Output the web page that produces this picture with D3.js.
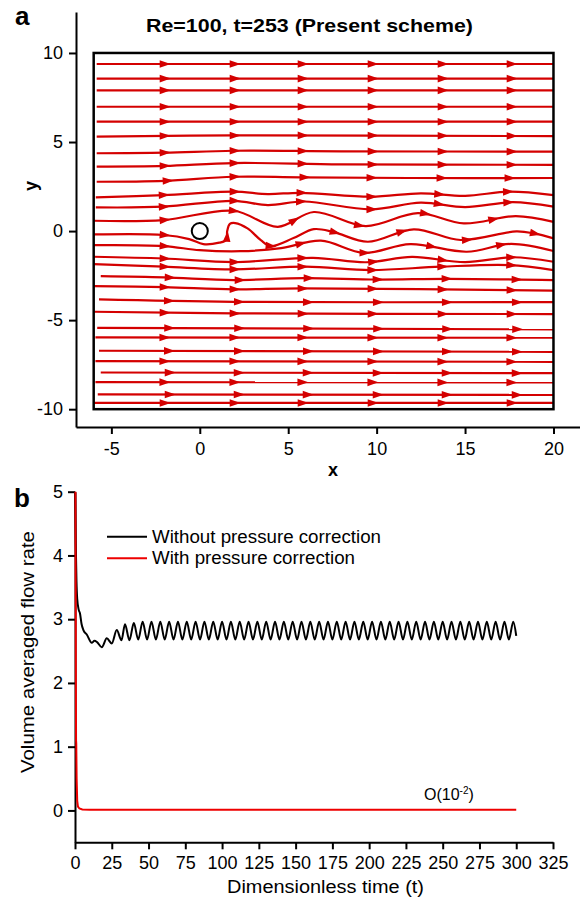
<!DOCTYPE html>
<html>
<head>
<meta charset="utf-8">
<script src="https://cdn.jsdelivr.net/npm/d3@7"></script>
<style>
body { margin: 0; background: #fff; }
text { font-family: Arial, "Liberation Sans", sans-serif; fill: #000; }
</style>
</head>
<body>
<svg id="fig" width="580" height="898"></svg>
<script>
// ---------- panel a: streamlines, [x, y] in flow units ----------
var xTicksA = [-5, 0, 5, 10, 15, 20];
var yTicksA = [-10, -5, 0, 5, 10];
var arrowsA = [-2.0, 1.95, 5.8, 9.75, 13.7, 17.6];
var arrowsB = [-1.75, 2.2, 6.1, 10.05, 13.95, 17.9];
var cylR = 0.5;

var streamlines = [
  {pts: [[-5.83, 9.38], [20, 9.38]], arrows: arrowsA},
  {pts: [[-5.83, 8.56], [20, 8.56]], arrows: arrowsA},
  {pts: [[-5.83, 7.90], [20, 7.90]], arrows: arrowsA},
  {pts: [[-5.83, 6.98], [20, 6.98]], arrows: arrowsA},
  {pts: [[-5.83, 6.14], [20, 6.14]], arrows: arrowsA},
  {pts: [[-5.83, 5.30], [1.9, 5.37], [20, 5.33]], arrows: arrowsA},
  {pts: [[-5.83, 4.37], [-2, 4.40], [1.9, 4.51], [8, 4.48], [20, 4.46]], arrows: arrowsA},
  {pts: [[-5.83, 3.62], [-2, 3.66], [1.9, 3.82], [8, 3.75], [20, 3.72]], arrows: arrowsA},
  {pts: [[-5.83, 2.77], [-2, 2.82], [1.9, 3.05], [5.7, 3.02], [12, 2.98], [20, 2.98]], arrows: [-1.86, 1.92, 5.88, 9.67, 13.63, 17.48]},
  {pts: [[-5.88, 1.89], [-2.04, 2.02], [1.92, 2.21], [3.85, 2.08], [5.71, 2.15], [9.67, 1.93], [12.5, 2.12], [15.0, 1.98], [17.5, 2.21], [20, 2.02]], arrows: [-2.04, 1.92, 5.7, 9.67, 13.5, 17.4]},
  {pts: [[-5.88, 1.33], [-2.04, 1.37], [1.92, 1.70], [3.85, 1.46], [5.9, 1.66], [9.67, 1.22], [12.5, 1.6], [15.0, 1.35], [17.7, 1.62], [20, 1.37]], arrows: [-2.04, 1.92, 5.7, 9.67, 13.5, 17.4]},
  {pts: [[-6, 0.58], [-2.04, 0.62], [1.92, 1.14], [4.41, 0.24], [6.45, 1.07], [9.39, 0.28], [12.33, 1.01], [14.93, 0.43], [17.87, 0.84], [20, 0.52]], arrows: [-2.04, 1.92, 5.3, 9.0, 12.7, 16.6]},
  {pts: [[-6, -0.19], [-2.04, -0.22], [-0.6, -0.45], [0.2, -0.73], [1.1, -0.65], [1.5, -0.5], [1.55, 0.0], [1.7, 0.4], [2.0, 0.45], [2.7, 0.15], [3.45, -0.51], [4.0, -0.84], [5.3, -0.39], [6.45, 0.11], [7.58, -0.06], [9.5, -0.6], [12.1, 0.1], [14.75, -0.5], [17.9, -0.02], [18.9, -0.13], [20, -0.41]], arrows: [-2.04, [1.56, -0.3], 4.0, 7.58, 11.4, 15.1, 18.9]},
  {pts: [[-6, -0.79], [-2.04, -0.84], [0, -1.07], [2.3, -1.13], [4.6, -0.96], [6.85, -0.54], [9.28, -1.22], [11.9, -0.73], [15.1, -1.16], [17.6, -0.72], [20, -1.12]], arrows: [-2.04, 5.7, 9.28, 13.07, 17.0]},
  {pts: [[-6, -1.44], [-2.04, -1.54], [1.92, -1.74], [6.4, -1.5], [9.4, -1.75], [12.0, -1.45], [15.0, -1.74], [17.7, -1.47], [20, -1.72]], arrows: arrowsA},
  {pts: [[-6, -1.85], [-2.04, -2.0], [1.92, -2.15], [6.0, -2.0], [9.67, -2.19], [13.6, -2.0], [17.5, -1.91], [20, -2.19]], arrows: arrowsA},
  {pts: [[-5.6, -2.53], [-2, -2.6], [1.92, -2.75], [5.9, -2.64], [10, -2.72], [14, -2.68], [20, -2.75]], arrows: arrowsB},
  {pts: [[-6, -3.09], [-2, -3.15], [1.92, -3.27], [5.71, -3.22], [20, -3.34]], arrows: arrowsA},
  {pts: [[-5.7, -3.84], [1.92, -3.97], [20, -3.99]], arrows: arrowsB},
  {pts: [[-6, -4.53], [1.92, -4.62], [20, -4.66]], arrows: arrowsA},
  {pts: [[-5.8, -5.43], [20, -5.52]], arrows: arrowsB},
  {pts: [[-5.9, -5.97], [20, -5.99]], arrows: arrowsA},
  {pts: [[-5.7, -6.72], [20, -6.78]], arrows: arrowsB},
  {pts: [[-5.9, -7.30], [20, -7.34]], arrows: arrowsA},
  {pts: [[-5.6, -7.94], [20, -7.98]], arrows: arrowsB},
  {pts: [[-5.9, -8.48], [20, -8.50]], arrows: arrowsA},
  {pts: [[-5.77, -9.17], [20, -9.20]], arrows: arrowsB},
  {pts: [[-6, -9.65], [20, -9.65]], arrows: arrowsA}
];

// ---------- panel b: flow-rate histories [t, value] ----------
var xTicksB = [0, 25, 50, 75, 100, 125, 150, 175, 200, 225, 250, 275, 300, 325];
var yTicksB = [0, 1, 2, 3, 4, 5];
var legendLabels = ["Without pressure correction", "With pressure correction"];
var blackFlow = [
  [0, 5.0], [0.5, 4.2], [1, 3.6], [1.5, 3.32], [2.5, 3.15], [3.4, 3.09], [4.5, 2.92], [5.7, 2.83],
  [8, 2.76], [11.4, 2.63], [13.2, 2.66], [15, 2.64], [18.2, 2.56], [21.6, 2.70], [25, 2.62],
  [28.4, 2.83], [31.6, 2.67], [34, 2.92], [37, 2.67], [40, 2.94], [43, 2.68], [46, 2.96],
  [49, 2.68], [52, 2.96], [55, 2.68], [58, 2.96], [61, 2.68], [64, 2.96], [67, 2.68], [70, 2.96],
  [73, 2.68], [76, 2.96], [79, 2.68], [82, 2.96], [85, 2.68], [88, 2.96], [91, 2.68], [94, 2.96],
  [97, 2.68], [100, 2.96], [103, 2.68], [106, 2.96], [109, 2.68], [112, 2.96], [115, 2.68],
  [118, 2.96], [121, 2.68], [124, 2.96], [127, 2.68], [130, 2.96], [133, 2.68], [136, 2.96],
  [139, 2.68], [142, 2.96], [145, 2.68], [148, 2.96], [151, 2.68], [154, 2.96], [157, 2.68],
  [160, 2.96], [163, 2.68], [166, 2.96], [169, 2.68], [172, 2.96], [175, 2.68], [178, 2.96],
  [181, 2.68], [184, 2.96], [187, 2.68], [190, 2.96], [193, 2.68], [196, 2.96], [199, 2.68],
  [202, 2.96], [205, 2.68], [208, 2.96], [211, 2.68], [214, 2.96], [217, 2.68], [220, 2.96],
  [223, 2.68], [226, 2.96], [229, 2.68], [232, 2.96], [235, 2.68], [238, 2.96], [241, 2.68],
  [244, 2.96], [247, 2.68], [250, 2.96], [253, 2.68], [256, 2.96], [259, 2.68], [262, 2.96],
  [265, 2.68], [268, 2.96], [271, 2.68], [274, 2.96], [277, 2.68], [280, 2.96], [283, 2.68],
  [286, 2.96], [289, 2.68], [292, 2.96], [295, 2.68], [298, 2.96], [300, 2.74]
];
var redFlow = [
  [0.3, 5.0], [0.45, 3.5], [0.6, 2.0], [0.72, 1.1], [0.85, 1.05], [1.1, 0.5], [1.5, 0.15],
  [2, 0.06], [3, 0.03], [5, 0.015], [10, 0.01], [300, 0.01]
];

var svg = d3.select('#fig');
var streamRed = '#d40000';

function styleAxis(g) {
  g.select('.domain').attr('stroke', '#000').attr('stroke-width', 2);
  g.selectAll('.tick line').attr('stroke', '#000').attr('stroke-width', 2);
  g.selectAll('.tick text').style('font-size', '18px').attr('fill', '#000');
}

// stretched label, the figure's font runs wider than Arial
function label(x, y, str, size, len, bold) {
  return svg.append('text').attr('x', x).attr('y', y)
    .attr('textLength', len).attr('lengthAdjust', 'spacingAndGlyphs')
    .style('font-size', size + 'px').style('font-weight', bold ? 'bold' : 'normal')
    .text(str);
}

// ---------- panel a ----------
var xA = d3.scaleLinear().domain([-7, 21.5]).range([76, 580]);
var yA = d3.scaleLinear().domain([-11, 12.3]).range([427, 12]);

svg.append('g')
  .attr('transform', `translate(0,${yA(-11)})`)
  .call(d3.axisBottom(xA).tickValues(xTicksA).tickSize(7).tickPadding(8).tickSizeOuter(0).tickFormat(d => String(d)))
  .call(styleAxis);
svg.append('g')
  .attr('transform', `translate(${xA(-7)},0)`)
  .call(d3.axisLeft(yA).tickValues(yTicksA).tickSize(7).tickPadding(6).tickSizeOuter(0).tickFormat(d => String(d)))
  .call(styleAxis);

var lineA = d3.line().x(d => xA(d[0])).y(d => yA(d[1])).curve(d3.curveCatmullRom.alpha(0.5));
var gS = svg.append('g');
streamlines.forEach(function(s) {
  var p = gS.append('path').attr('d', lineA(s.pts))
    .attr('fill', 'none').attr('stroke', streamRed).attr('stroke-width', 2.2);
  var node = p.node(), len = node.getTotalLength(), samp = [];
  for (var l = 0; l <= len; l += 1) samp.push(node.getPointAtLength(l));
  s.arrows.forEach(function(a) {
    var i = -1;
    if (Array.isArray(a)) {
      var ax = xA(a[0]), ay = yA(a[1]), best = 1e9;
      samp.forEach(function(q, k) {
        var dd = (q.x - ax) * (q.x - ax) + (q.y - ay) * (q.y - ay);
        if (dd < best) { best = dd; i = k; }
      });
    } else {
      var px = xA(a);
      i = samp.findIndex(q => q.x >= px);
    }
    if (i < 0) return;
    var p0 = samp[Math.max(0, i - 3)], p1 = samp[Math.min(samp.length - 1, i + 3)];
    var ang = Math.atan2(p1.y - p0.y, p1.x - p0.x) * 180 / Math.PI;
    gS.append('path').attr('d', 'M6,0L-5,-3.8L-5,3.8Z').attr('fill', streamRed)
      .attr('transform', `translate(${samp[i].x},${samp[i].y}) rotate(${ang})`);
  });
});

// domain box and cylinder
svg.append('rect')
  .attr('x', xA(-6)).attr('y', yA(10))
  .attr('width', xA(20) - xA(-6)).attr('height', yA(-10) - yA(10))
  .attr('fill', 'none').attr('stroke', '#000').attr('stroke-width', 2.5);
svg.append('circle')
  .attr('cx', xA(0)).attr('cy', yA(0)).attr('r', xA(cylR) - xA(0) - 0.8)
  .attr('fill', '#fff').attr('stroke', '#000').attr('stroke-width', 2);

label(146, 32, 'Re=100, t=253 (Present scheme)', 18.5, 327, true);
svg.append('text').attr('x', 15).attr('y', 25).style('font-size', '26px').style('font-weight', 'bold').text('a');
svg.append('text').attr('x', 333).attr('y', 476).attr('text-anchor', 'middle')
  .style('font-size', '18px').style('font-weight', 'bold').text('x');
svg.append('text').attr('transform', 'translate(37,186) rotate(-90)').attr('text-anchor', 'middle')
  .style('font-size', '18px').style('font-weight', 'bold').text('y');

// ---------- panel b ----------
var xB = d3.scaleLinear().domain([0, 325]).range([75, 553]);
var yB = d3.scaleLinear().domain([-0.5, 5]).range([842.3, 491.7]);

svg.append('g')
  .attr('transform', `translate(0,${yB(-0.5)})`)
  .call(d3.axisBottom(xB).tickValues(xTicksB).tickSize(7).tickPadding(7).tickSizeOuter(0).tickFormat(d => String(d)))
  .call(styleAxis);
svg.append('g')
  .attr('transform', `translate(${xB(0)},0)`)
  .call(d3.axisLeft(yB).tickValues(yTicksB).tickSize(7).tickPadding(5).tickSizeOuter(0).tickFormat(d => String(d)))
  .call(styleAxis);

svg.append('path')
  .attr('d', d3.line().x(d => xB(d[0])).y(d => yB(d[1])).curve(d3.curveMonotoneX)(blackFlow))
  .attr('fill', 'none').attr('stroke', '#000').attr('stroke-width', 2);
svg.append('path')
  .attr('d', d3.line().x(d => xB(d[0])).y(d => yB(d[1]))(redFlow))
  .attr('fill', 'none').attr('stroke', '#ee0000').attr('stroke-width', 2);

var legColors = ['#000', '#ee0000'];
var legLens = [229, 203];
legendLabels.forEach(function(lab, i) {
  var ly = 536.7 + i * 21.6;
  svg.append('line').attr('x1', 107).attr('x2', 147).attr('y1', ly).attr('y2', ly)
    .attr('stroke', legColors[i]).attr('stroke-width', 2);
  label(152, ly + 6, lab, 17.5, legLens[i], false);
});

var oLab = svg.append('text').attr('x', 424).attr('y', 800).style('font-size', '16px');
oLab.append('tspan').text('O(10');
oLab.append('tspan').attr('dy', -6).style('font-size', '10px').text('-2');
oLab.append('tspan').attr('dy', 6).text(')');

svg.append('text').attr('x', 14).attr('y', 507).style('font-size', '26px').style('font-weight', 'bold').text('b');
label(227, 893, 'Dimensionless time (t)', 17.5, 197, false);
svg.append('text').attr('transform', 'translate(34,652) rotate(-90)').attr('text-anchor', 'middle')
  .attr('textLength', 242).attr('lengthAdjust', 'spacingAndGlyphs')
  .style('font-size', '17.5px').text('Volume averaged flow rate');
</script>
</body>
</html>
